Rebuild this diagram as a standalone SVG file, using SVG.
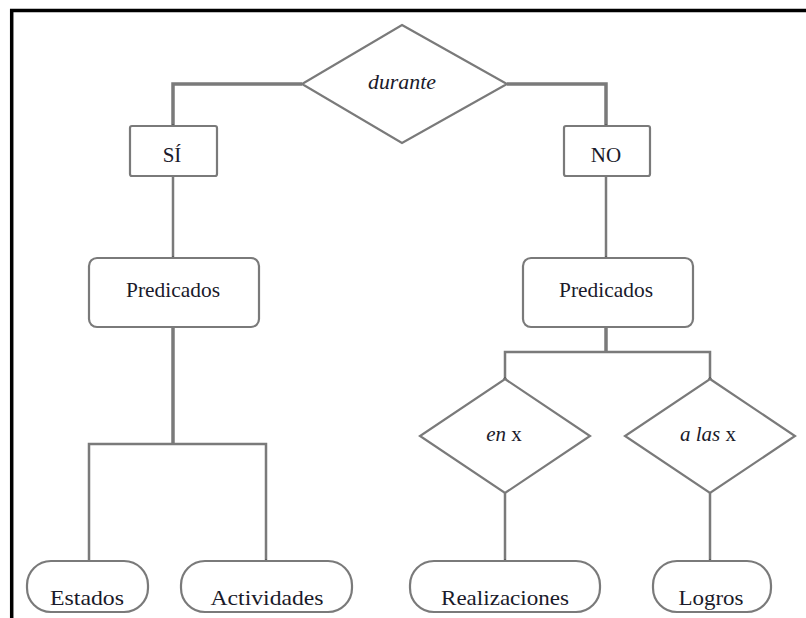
<svg xmlns="http://www.w3.org/2000/svg" width="806" height="618" viewBox="0 0 806 618">
<style>
.shape{fill:#fff;stroke:#7a7a7a;stroke-width:2.2}
.conn{fill:none;stroke:#7a7a7a;stroke-width:2.5}
.thick{stroke-width:3.5}
.lbl{font-family:'Liberation Serif','DejaVu Serif',serif;font-size:21px;fill:#1a1a2a;text-anchor:middle}
.it{font-style:italic}
</style>
<defs>
<marker id="dot" markerWidth="4" markerHeight="4" refX="2" refY="2" markerUnits="userSpaceOnUse">
<circle cx="2" cy="2" r="1.6" fill="#222"/>
</marker>
</defs>
<rect width="806" height="618" fill="#fff"/>
<path d="M11.7 618 V10.5 H806" fill="none" stroke="#000" stroke-width="3.5"/>
<g id="connectors">
<path class="conn thick" d="M302 84 H173 V126" marker-end="url(#dot)"/>
<path class="conn thick" d="M507 84 H606 V126" marker-end="url(#dot)"/>
<path class="conn" d="M173 176 V258" marker-end="url(#dot)"/>
<path class="conn" d="M606 176 V258" marker-end="url(#dot)"/>
<path class="conn thick" d="M173 327 V444"/>
<path class="conn" d="M89 561 V444 H266 V561" marker-end="url(#dot)"/>
<path class="conn thick" d="M606 327 V352"/>
<path class="conn" d="M505 379 V352 H710 V379" marker-end="url(#dot)"/>
<path class="conn" d="M505 379 V379" marker-end="url(#dot)"/>
<path class="conn" d="M505 493 V561" marker-end="url(#dot)"/>
<path class="conn" d="M710 493 V561" marker-end="url(#dot)"/>
</g>
<g id="durante">
<polygon class="shape" points="402,25 507,84 402,143 302,84"/>
<text class="lbl it" x="402" y="89" font-family="Liberation Serif, DejaVu Serif, serif" textLength="68" lengthAdjust="spacingAndGlyphs">durante</text>
</g>
<g id="si">
<rect class="shape" x="130" y="126" width="87" height="50" rx="2"/>
<text class="lbl" x="172" y="162" font-family="Liberation Serif, DejaVu Serif, serif">SÍ</text>
</g>
<g id="no">
<rect class="shape" x="564" y="126" width="86" height="50" rx="2"/>
<text class="lbl" x="606" y="162" font-family="Liberation Serif, DejaVu Serif, serif">NO</text>
</g>
<g id="predicados-si">
<rect class="shape" x="89" y="258" width="170" height="69" rx="8"/>
<text class="lbl" x="173" y="297" font-family="Liberation Serif, DejaVu Serif, serif" textLength="94" lengthAdjust="spacingAndGlyphs">Predicados</text>
</g>
<g id="predicados-no">
<rect class="shape" x="523" y="258" width="170" height="69" rx="8"/>
<text class="lbl" x="606" y="297" font-family="Liberation Serif, DejaVu Serif, serif" textLength="94" lengthAdjust="spacingAndGlyphs">Predicados</text>
</g>
<g id="en-x">
<polygon class="shape" points="505,379 590,436 505,493 420,436"/>
<text class="lbl" x="504" y="441" font-family="Liberation Serif, DejaVu Serif, serif"><tspan class="it">en</tspan> x</text>
</g>
<g id="a-las-x">
<polygon class="shape" points="710,379 795,436 710,493 625,436"/>
<text class="lbl" x="708" y="441" font-family="Liberation Serif, DejaVu Serif, serif"><tspan class="it">a las</tspan> x</text>
</g>
<g id="estados">
<rect class="shape" x="27" y="561" width="121" height="51" rx="24"/>
<text class="lbl" x="87" y="605" font-family="Liberation Serif, DejaVu Serif, serif" textLength="74" lengthAdjust="spacingAndGlyphs">Estados</text>
</g>
<g id="actividades">
<rect class="shape" x="181" y="561" width="171" height="51" rx="24"/>
<text class="lbl" x="267" y="605" font-family="Liberation Serif, DejaVu Serif, serif" textLength="113" lengthAdjust="spacingAndGlyphs">Actividades</text>
</g>
<g id="realizaciones">
<rect class="shape" x="410" y="561" width="190" height="51" rx="24"/>
<text class="lbl" x="505" y="605" font-family="Liberation Serif, DejaVu Serif, serif" textLength="128" lengthAdjust="spacingAndGlyphs">Realizaciones</text>
</g>
<g id="logros">
<rect class="shape" x="653" y="561" width="118" height="51" rx="24"/>
<text class="lbl" x="711" y="605" font-family="Liberation Serif, DejaVu Serif, serif" textLength="65" lengthAdjust="spacingAndGlyphs">Logros</text>
</g>
</svg>
